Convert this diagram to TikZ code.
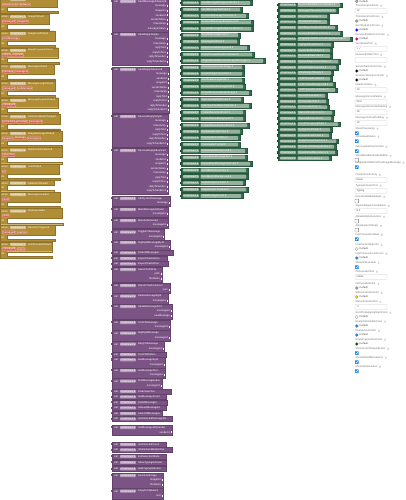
\documentclass[tikz,border=0pt]{standalone}
\usepackage{fontspec}
\setmainfont{Liberation Sans}
\newfontfamily\symfnt{DejaVu Sans}
\usetikzlibrary{positioning,calc}
\definecolor{EvGold}{RGB}{177,142,53}
\definecolor{ChipRed}{RGB}{208,108,86}
\definecolor{MtPurple}{RGB}{124,83,133}
\definecolor{PrGreen}{RGB}{48,108,74}
\definecolor{PrField}{RGB}{150,178,158}
\definecolor{PanelGray}{RGB}{115,115,115}
\definecolor{BoxGray}{RGB}{200,200,200}
\definecolor{TickBlue}{RGB}{30,130,230}
\newcommand{\drop}{{\symfnt ▾}}
\newcommand{\blkfont}{\fontsize{2.6}{3}\selectfont}
\tikzset{
	lbl/.style={font=\blkfont,text=white,inner sep=0.3pt},
	fld/.style={font=\blkfont,text=white,fill=white,fill opacity=0.45,text opacity=1,
		rounded corners=0.6pt,inner sep=0.5pt},
	chip/.style={font=\blkfont,text=white,fill=ChipRed,draw=ChipRed!55!white,line width=0.3pt,
		rounded corners=0.8pt,inner sep=0.5pt},
	evblk/.style={fill=EvGold,draw=EvGold!80!black,line width=0.2pt},
	mtblk/.style={fill=MtPurple,draw=MtPurple!80!black,line width=0.2pt},
	prblk/.style={fill=PrGreen,draw=PrGreen!80!black,line width=0.2pt},
	pfld/.style={font=\blkfont,text=white,fill=PrField,rounded corners=0.5pt,inner sep=0.5pt},
	plbl/.style={font=\blkfont,text=PanelGray,inner sep=0.3pt,anchor=west},
	hlp/.style={circle,draw=BoxGray,line width=0.2pt,inner sep=0.1pt,text=PanelGray,
		font=\fontsize{1.8}{2}\selectfont},
	tbox/.style={draw=BoxGray,fill=white,rounded corners=0.6pt,line width=0.3pt},
}

\begin{document}
\begin{tikzpicture}[x=1pt,y=-1pt]
	\fill[white] (0,0) rectangle (405,500);
	\useasboundingbox (0,0) rectangle (405,500);
	% event handlers
	\foreach \y/\ev/\pa/\w/\b [count=\i] in {
		-3/AttachmentClicked/{attachmentId,fileName}/57/58,
		14.3/ImageClicked/{messageId,imageUrl}/49/49,
		31/ImageLoadFailed/{errorMessage}/55/55,
		47.7/ReplyPreviewClicked/{replyId,originalId}/58/59,
		64.3/MessageClicked/{message,messageId}/54/55,
		81/MessageLongClicked/{messageId,textMessage}/55/55,
		97.7/MessageDoubleClicked/{messageId}/58/58,
		114.3/SelectionModeChanged/{isChecked,message,messageId}/60/60,
		131/ImageMessageClicked/{imageUrl,message,messageId}/62/62,
		147.5/OptionsItemSelected/{optionText}/62/62,
		164/LinkClicked/{url}/59/60,
		192/MessagesLoaded/{count}/60/60,
		208.5/HistoryLoaded/{count}/62/63,
		225/ReactionTriggered/{messageId,reaction}/55/55,
		241.7/LinkPreviewClicked/{messageId,linkUrl}/52/52}{
		\draw[evblk] (0,\y) -- (\w,\y) -- (\w,\y+10) -- (7,\y+10) -- (7,\y+14.5)
		-- (\b,\y+14.5) -- (\b,\y+16.2) -- (0,\y+16.2) -- cycle;
		\node[lbl,anchor=west] (ew\i) at (1.2,\y+2.6) {when};
		\node[fld,right=1.6pt of ew\i] (ef\i) {ChatView1 \drop};
		\node[lbl,right=1.6pt of ef\i] (en\i) {\ev};
		\coordinate (ec\i-0) at (1.2,\y+7.4);
		\foreach \p [count=\k, remember=\k as \kk (initially 0)] in \pa
		\node[chip,right=0.8pt of ec\i-\kk] (ec\i-\k) {\p};
		\node[lbl,anchor=west] (ed\i) at (1,\y+12.3) {do};
	}
	\draw[evblk] (0,180.5) -- (54,180.5) -- (54,185.5) -- (7,185.5) -- (7,190)
	-- (54,190) -- (54,191.6) -- (0,191.6) -- cycle;
	\node[lbl,anchor=west] (swh) at (1.2,183.1) {when};
	\node[fld,right=1.6pt of swh] (swf) {ChatView1 \drop};
	\node[lbl,right=1.6pt of swf] (swn) {SelectionCleared};
	\node[lbl,anchor=west] (swd) at (1,187.8) {do};
	% method calls with arguments
	\foreach \y/\mt/\sk/\n/\rx [count=\i] in {
		-1/SendMessageAdvanced/{message,imageUrl,senderId,senderName,timestamp,messageStatus}/6/168,
		32/SendReplySimple/{message,timestamp,replyToId,replyToText,replyToSender,replyToSenderId}/6/168,
		67/SendReplyAdvanced/{message,senderId,imageUrl,senderName,timestamp,replyToId,replyToText,replyToSender,replyToSenderId}/9/169,
		114/ReceiveReplySimple/{message,timestamp,replyToId,replyToText,replyToSender,replyToSenderId}/6/168,
		148/ReceiveReplyAdvanced/{message,senderId,imageUrl,senderName,timestamp,replyToId,replyToText,replyToSender,replyToSenderId}/9/168,
		196/AddSystemMessage/{message}/1/170,
		207/MarkMessageAsRead/{messageId}/1/168,
		218/MarkAsDelivered/{messageId}/1/168,
		229.5/TogglePinMessage/{messageId}/1/164,
		240/HighlightMessageById/{messageId}/1/170,
		267/SaveChatToFile/{path,fileName}/2/162,
		283/ImportChatFromJson/{json}/1/170,
		293.5/DeleteMessageById/{messageId}/1/168,
		304/UpdateMessageText/{messageId,newMessage}/2/172,
		320/ScrollToMessage/{messageId}/1/170,
		330.5/HighlightMessage/{messageId}/1/170,
		341.5/ReplyToMessage/{messageId}/1/164,
		357.3/GetMessageById/{messageId}/1/165,
		368/GetMessageText/{messageId}/1/165,
		378.5/FindMessageIndex/{messageId}/1/162,
		425/GetMessagesBySender/{senderId}/1/172,
		473/DownloadImage/{imageUrl,fileName}/2/163,
		488.5/CopyToClipboard/{text}/1/163}{
		\pgfmathsetmacro\hh{6+4.5*\n}
		\draw[mtblk] (112,\y) rectangle (\rx,\y+\hh);
		\fill[MtPurple] (110.5,\y+1) rectangle (112,\y+3.4);
		\node[lbl,anchor=west] (mc\i) at (113.5,\y+2.6) {call};
		\node[fld,right=1.6pt of mc\i] (mf\i) {ChatView1 \drop};
		\node[lbl,right=1.6pt of mf\i] (mn\i) {\mt};
		\foreach \s [count=\k] in \sk {
			\node[lbl,anchor=east] (ms\i-\k) at (\rx-1.8,\y+2.8+4.5*\k) {\s};
			\fill[white] (\rx-1,\y+1.7+4.5*\k) rectangle (\rx+0.2,\y+3.9+4.5*\k);
		}
	}
	% method calls without arguments
	\foreach \y/\mt/\rx [count=\i] in {
		250.5/ClearAllMessages/173, 256/ExportChatAsJson/167, 261.5/ExportChatAsText/168,
		352/ScrollToBottom/166, 389/ClearSelection/171, 394.5/GetMessageCount/166,
		400/GetAllMessages/167, 405.5/GetLastMessageId/166, 411/SelectAllMessages/162,
		416.5/GetSelectedMessageIds/172, 442/GetSelectedCount/166,
		447.5/IsSelectionModeActive/172, 454/ExitSelectionMode/166,
		460/ShowTypingIndicator/166, 466.5/HideTypingIndicator/166}{
		\draw[mtblk] (112,\y) rectangle (\rx,\y+5);
		\fill[MtPurple] (110.5,\y+1) rectangle (112,\y+3.4);
		\node[lbl,anchor=west] (qc\i) at (113.5,\y+2.5) {call};
		\node[fld,right=1.6pt of qc\i] (qf\i) {ChatView1 \drop};
		\node[lbl,right=1.6pt of qf\i] (qn\i) {\mt};
	}
	% property getters, first column
	\foreach \nm/\rx [count=\k] in {
		SentMessageBackgroundColor/252, SentMessageTextColor/242, ReceivedMessageTextColor/248,
		ReceivedMessageBackground/253, SystemMessageBackgroundColor/253, SystemMessageColor/240,
		MessageFontSize/239, ReplyPreviewBackground/249, ReplyPreviewBorderColorSent/254,
		ImageMaxWidthForTextImageMessages/265, ShowSenderAvatarImage/244, AvatarImageCornerSize/244,
		SentAvatarImagePath/244, ReceivedAvatarImagePath/245, DefaultReceivedAvatarImage/251,
		SelectionHighlightColor/243, SelectionCheckboxTintColor/251, ContextMenuTextColor/245,
		ContextMenuBackground/245, ContextMenuItemFontSize/249, DateHeaderTextColor/242,
		DateHeaderFontSize/240, DateHeaderFormat/240, DateHeaderBackground/247,
		EmptyStateMessageText/247, EmptyStateMessageTextColor/252, ScrollButtonIconColor/248,
		ScrollButtonBackground/248, SwipeReplyIconColor/245, SwipeReplyThreshold/248,
		TotalMessageCount/243}{
		\pgfmathsetmacro\gy{3+6.43*(\k-1)}
		\fill[PrGreen!70!black] (179.6,\gy-1.3) rectangle (181.5,\gy+1.3);
		\draw[prblk] (181,\gy-2.5) rectangle (\rx,\gy+2.5);
		\node[pfld,anchor=west] (ga\k) at (183,\gy) {ChatView1 \drop};
		\fill[PrField,rounded corners=0.5pt] ($(ga\k.east)+(1.6,-1.9)$) rectangle (\rx-2,\gy+1.9);
		\node[lbl,right=2pt of ga\k] (gb\k) {\nm\ \drop};
	}
	% property getters, second column
	\foreach \nm/\rx [count=\k] in {
		ReceivedBubbleCornerRadius/342, MessageTimestampFontSize/338, ShowTimestamps/329,
		ShowReadStatus/329, SentStatusTextFontColor/337, ReceivedStatusFontColor/342,
		ImageMaxWidthForTextImageMessage/352, TypingIndicatorText/333, SquareBubbleEdges/332,
		ReceivedStatusText/332, SquareEdgeCornerRadius/340, AllowMultipleSelection/338,
		AllowSwipeToReply/333, LinkPreviewEnabled/332, LinkPreviewBackground/335,
		LinkPreviewAccentColor/337, ShowOnlineLabel/327, OnlineLabelText/328,
		OnlineLabelColor/329, StatusIndicatorColor/334, StatusIndicatorText/333,
		ScrollToReplyHighlight/340, ReplyAccentColor/332, ReplyIndicatorColor/331,
		ReplyPreviewTextColor/338, ShowScrollToReplyButton/336, ShowDefaultMenuItems/337,
		ShowDateHeaders/331}{
		\pgfmathsetmacro\gy{5+5.67*(\k-1)}
		\fill[PrGreen!70!black] (276.6,\gy-1.2) rectangle (278.5,\gy+1.2);
		\draw[prblk] (278,\gy-2.3) rectangle (\rx,\gy+2.3);
		\node[pfld,anchor=west] (ha\k) at (280,\gy) {ChatView1 \drop};
		\fill[PrField,rounded corners=0.5pt] ($(ha\k.east)+(1.6,-1.8)$) rectangle (\rx-2,\gy+1.8);
		\node[lbl,right=2pt of ha\k] (hb\k) {\nm\ \drop};
	}
	% designer properties: text fields
	\foreach \y/\nm/\val [count=\k] in {
		6/TimestampFontSize/12, 44/SentStatusText/{\symfnt ✓✓}, 55/ReceivedStatusText/{},
		85/NameFontSize/10, 97/MessageCornerRadius/20.0, 107/MessageHorizontalPadding/16,
		118/MessageVerticalPadding/10, 175/CustomFontFamily/None, 186/TypingIndicatorText/Typing,
		206/SquareEdgeCornerRadius/8.0, 272/OnlineLabelText/online,
		302/StatusIndicatorText/{\symfnt ••}}{
		\node[plbl] (tl\k) at (355,\y) {\nm};
		\node[hlp,right=1.2pt of tl\k] (th\k) {?};
		\draw[tbox] (355,\y+2.7) rectangle (387,\y+7.2);
		\node[plbl,text=black!70] (tv\k) at (356.2,\y+5) {\val};
	}
	% designer properties: check boxes
	\foreach \y/\nm/\onn [count=\k] in {
		129/ShowTimestamp/1, 137/ShowReadStatus/1, 147/AutoLoadHistoryOnStart/1,
		156/ShowMetadataInsideBubble/0, 163/ImageMaxWidthForTextImageMessage/1,
		197/RoundedBubbleEdges/0, 217/AllowMultipleSelection/0, 226/AllowSwipeToReply/0,
		235/LinkPreviewEnabled/1, 263/ShowOnlineLabel/1, 349/ShowScrollToReplyButton/1,
		358/ShowDefaultMenuItems/1, 367/ShowDateHeaders/1}{
		\node[plbl] (cl\k) at (355,\y) {\nm};
		\node[hlp,right=1.2pt of cl\k] (ch\k) {?};
		\ifnum\onn=1
		\fill[TickBlue,rounded corners=0.4pt] (355,\y+2.3) rectangle (358.6,\y+5.9);
		\draw[white,line width=0.4pt] (355.7,\y+4.1) -- (356.6,\y+5) -- (357.9,\y+3.1);
		\else
		\draw[PanelGray,line width=0.3pt,rounded corners=0.4pt] (355,\y+2.3) rectangle (358.6,\y+5.9);
		\fi
	}
	% designer properties: colour pickers
	\filldraw[fill=gray!70,draw=PanelGray,line width=0.2pt] (356.8,1.2) circle (1.5);
	\node[plbl,text=black!70] (sv0) at (359.2,1.5) {Default};
	\foreach \y/\nm/\sw [count=\k] in {
		17/TimestampFontColor/gray!70,
		26/SentStatusFontColor/blue, 35/ReceivedStatusFontColor/magenta,
		67/SenderNameFontColor/black, 76/ReceiverNameFontColor/black,
		245/LinkPreviewBgColor/white, 254/LinkPreviewAccentColor/TickBlue,
		284/OnlineLabelColor/gray!70, 293/StatusIndicatorColor/{yellow!80!orange},
		313/ScrollToReplyHighlightColor/white, 322/ReplyIndicatorBarColor/TickBlue,
		331/ReplyAccentColor/TickBlue, 340/ReplyPreviewTextColor/{green!30!black}}{
		\node[plbl] (sl\k) at (355,\y) {\nm};
		\node[hlp,right=1.2pt of sl\k] (sh\k) {?};
		\filldraw[fill=\sw,draw=PanelGray,line width=0.2pt] (356.8,\y+4) circle (1.5);
		\node[plbl,text=black!70] (sv\k) at (359.2,\y+4) {Default};
	}
\end{tikzpicture}
\end{document}
